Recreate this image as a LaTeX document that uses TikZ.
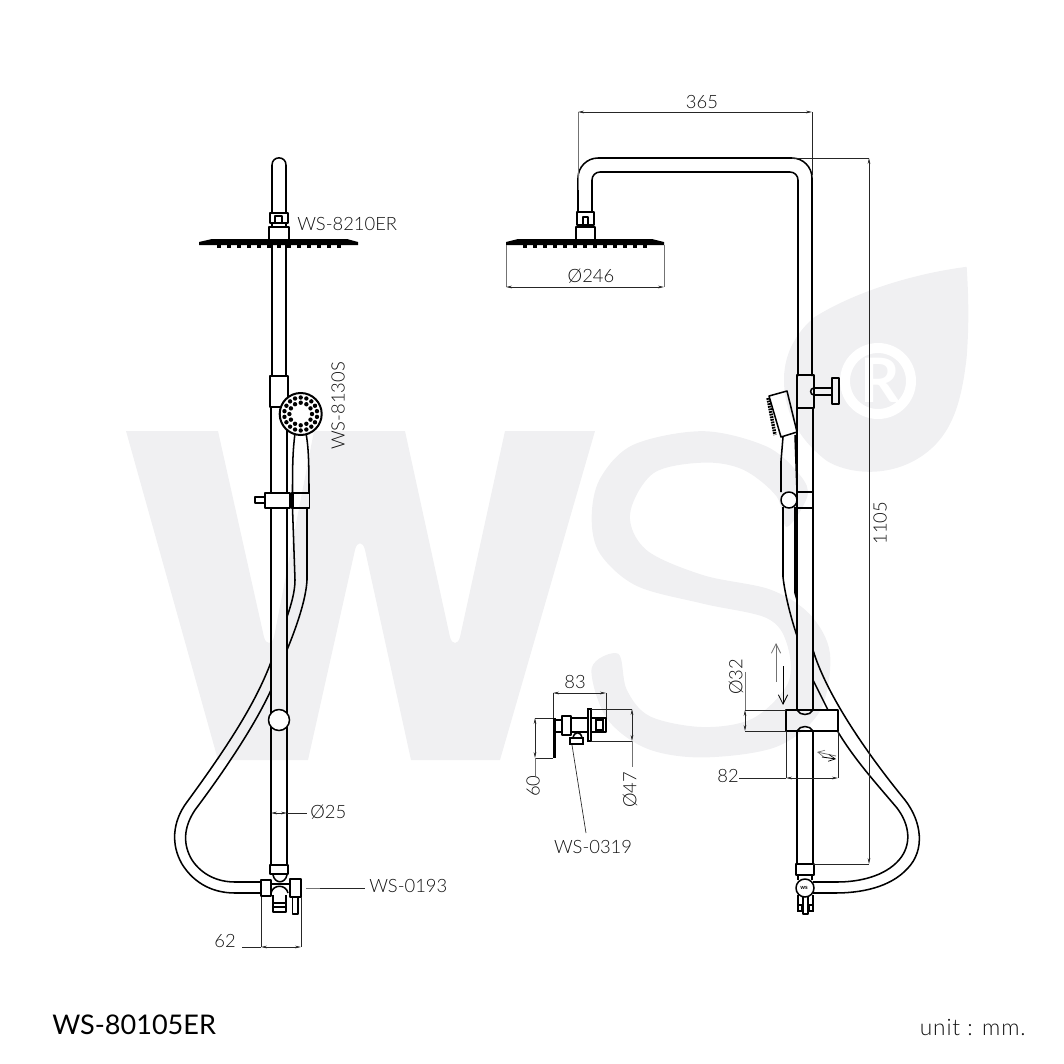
\documentclass[tikz,border=0pt]{standalone}
\usepackage{fontspec}
\setmainfont{Lato Light}
\newfontfamily\regfont{Lato}
\usetikzlibrary{arrows.meta,calc}
\definecolor{wm}{HTML}{F0F0F2}
\definecolor{txt}{HTML}{111111}
\tikzset{
 hw/.style={line width=1.15pt,black,line join=round},
 hwb/.style={line width=1.6pt,black,line join=miter},
 dimln/.style={line width=0.5pt,black!85},
 dimgr/.style={line width=0.7pt,black!55},
 dimarr/.style={dimln,{Stealth[length=4.5pt,width=2pt]}-{Stealth[length=4.5pt,width=2pt]}},
 open/.style={line width=0.6pt,-{Straight Barb[length=7pt,width=7pt,line width=0.6pt]}},
 lab/.style={text=txt,font=\fontsize{13.8pt}{15pt}\selectfont,inner sep=0pt},
 solidw/.style={hw,fill=white}
}
\begin{document}
\begin{tikzpicture}[x=0.75pt,y=-0.75pt]
\useasboundingbox (0,0) rectangle (1064,1064);
% watermark W
\fill[wm,rounded corners=0pt] (126,431) -- (218,431) -- (264,637) .. controls (266,645) and (272,645) .. (274,637) -- (314,431) -- (405,431) -- (450,637) .. controls (452,645) and (458,645) .. (460,637) -- (505,431) -- (595,431) -- (500,760) -- (411,760) -- (365,550) .. controls (363,541) and (357,541) .. (355,550) -- (308,760) -- (218,760) -- cycle;
\begin{scope}[shift={(570,250)},x=0.25pt,y=-0.268pt]
 % S
 \fill[wm] plot[smooth cycle,tension=0.55] coordinates {(65,750)(90,640)(190,545)(400,507)(590,550)(690,630)(712,690)(650,775)(620,690)(520,615)(400,595)(250,625)(180,740)(230,840)(400,910)(600,950)(720,1020)(780,1130)(750,1290)(620,1390)(400,1420)(230,1395)(110,1310)(65,1170)(145,1130)(170,1230)(240,1305)(400,1335)(550,1310)(655,1210)(650,1100)(590,1030)(400,990)(200,940)(90,850)};
 % leaf
 \fill[wm] (1190,47) .. controls (1000,70) and (830,130) .. (730,190) .. controls (670,240) and (640,300) .. (642,370) .. controls (645,470) and (700,540) .. (770,590) .. controls (830,625) and (950,640) .. (1050,580) .. controls (1150,520) and (1175,420) .. (1190,300) .. controls (1198,200) and (1195,120) .. (1190,47) -- cycle;
\end{scope}
\draw[white,line width=7.5pt] (878,381) circle (33);
\node[text=white,inner sep=0pt,font=\regfont\bfseries\fontsize{46pt}{46pt}\selectfont] (regR) at (880,380) {R};
% ---------- left elevation
\draw[hw] (272,213) -- (272,165) .. controls (272,155.5) and (286,155.5) .. (286,165) -- (286,213);
\draw[hw] (270,213) rectangle (288,223);
\draw[hw] (275,223) -- (275,216) -- (282,216) -- (282,223);
\draw[hw] (269,227) rectangle (289,240);
\draw[hw] (272,223) -- (272,227) (286,223) -- (286,227);
\fill (199,242) -- (212,239) -- (347,239) -- (358,242) -- (358,245) -- (199,245) -- cycle;
\foreach \i in {-6,...,6}{\fill ({279+\i*10-2},245) rectangle ({279+\i*10+2},248);}
\draw[hw] (272,245) -- (272,376) (286,245) -- (286,376);
\draw[hw] (271,407) -- (271,865) (287,407) -- (287,493);
\draw[hw] (287,508) -- (287,865);
\draw[hw] (270,376) rectangle (288,407);
% hose left
\draw[hw] (271,662) .. controls (255,705) and (225,750) .. (187,802) .. controls (172,822) and (171,845) .. (182,864) .. controls (195,885) and (215,893) .. (235,893) -- (261,893);
\draw[hw] (271,690) .. controls (255,725) and (225,770) .. (195,810) .. controls (183,828) and (183,845) .. (192,860) .. controls (202,875) and (218,882) .. (235,882) -- (261,882);
\draw[hw] (292.5,508) -- (295,580) .. controls (295,592) and (291,605) .. (287,617);
\draw[hw] (307,508) -- (307,580) .. controls (306,600) and (296,628) .. (287,650);
\draw[hw,fill=white] (279,720) circle (10.5);
% handset
\draw[hw] (295,433) .. controls (293,450) and (292.5,460) .. (292.5,492);
\draw[hw] (306,433) .. controls (308,445) and (309,455) .. (309,492);
\draw[solidw] (265,493) rectangle (290,508);
\draw[hw] (255,497) rectangle (265,503);
\draw[hw] (291.5,493) rectangle (309.5,508);
\draw[hwb] (291.5,493) -- (309.5,493) (293,493) -- (293,508);
\draw[solidw,line width=1.5pt] (300.7,414) circle (21);
\foreach \a in {0,30,...,330}{\fill ($(300.7,414)+(\a:11.3)$) circle (2.2);}
\foreach \a in {10,30,...,350}{\fill ($(300.7,414)+(\a:16.5)$) circle (2.2);}
\fill[white] (300.7,414) circle (7);
% valve left
\draw[hw] (270,865) rectangle (288,874);
\draw[hw] (261,880) rectangle (271,896);
\draw[hw] (290,879) rectangle (301,897);
\draw[hw] (273,875) .. controls (275,884) and (285,884) .. (287,875);
\draw[hw] (271,884) -- (290,884) (271,893) .. controls (273,884) and (286,884) .. (288,893);
\draw[hw] (273,895) -- (273,903) (286,895) -- (286,903);
\draw[hw] (273,903) rectangle (286,912);
\draw[hw] (273,907) -- (286,907);
\draw[hw] (292.5,897) rectangle (298,914);
% dims left
\draw[dimln] (261,897) -- (261,947) (301,897) -- (301,947);
\draw[dimln] (242,947) -- (261,947);
\draw[dimarr] (261,947) -- (301,947);
\node[lab] (d62) at (225,941) {62};
\draw[dimgr] (306,888) -- (320,888);
\draw[dimln] (320,888) -- (365,888);
\node[lab,anchor=west] (ws0193) at (369,885.5) {WS-0193};
\draw[dimarr] (271,813) -- (287,813);
\draw[dimln] (287,813) -- (307,813);
\node[lab,anchor=west] (d25) at (310,812) {Ø25};
\node[lab,anchor=west] (ws8210) at (297,224) {WS-8210ER};
\node[lab,rotate=90] (ws8130) at (338,406) {WS-8130S};
% ---------- right elevation
\draw[hw] (578,212) -- (578,178) .. controls (578,167) and (587,158) .. (598,158) -- (792,158) .. controls (803,158) and (812,167) .. (812,178) -- (812,376);
\draw[hw] (592,212) -- (592,180) .. controls (592,175.5) and (595.5,172) .. (600,172) -- (790,172) .. controls (794.5,172) and (798,175.5) .. (798,180) -- (798,376);
\draw[hw] (577,212) rectangle (594,225);
\draw[hw] (583,225) -- (583,217) -- (588,217) -- (588,225);
\draw[hw] (576,227) rectangle (595,240);
\fill (506,242) -- (518,239) -- (652,239) -- (664,242) -- (664,245) -- (506,245) -- cycle;
\foreach \i in {-6,...,6}{\fill ({585+\i*10-2},245) rectangle ({585+\i*10+2},248);}
\draw[hw] (797,408) -- (797,710) (813,408) -- (813,710);
\draw[hw] (797,731) -- (797,864) (813,731) -- (813,864);
\draw[hw] (797,375) rectangle (814,408);
\draw[hw] (814,388) -- (832,388) (814,395) -- (832,395);
\draw[hw] (814,388) .. controls (809.5,388) and (809.5,395) .. (814,395);
\draw[hw] (832,378) rectangle (839,404);
% clamp
\draw[hw] (786,710) rectangle (838,731);
\draw[hwb] (786,731) -- (838,731);
\draw[hw] (797,710) .. controls (800,716) and (810,716) .. (813,710);
\draw[hw] (797,731) .. controls (800,725) and (810,725) .. (813,731);
% hose right
\draw[hw] (813,650) .. controls (825,690) and (860,745) .. (905,800) .. controls (922,822) and (925,850) .. (908,868) .. controls (890,888) and (860,893) .. (835,893) -- (813,893);
\draw[hw] (838,732) .. controls (855,760) and (875,782) .. (897,808) .. controls (910,825) and (912,845) .. (899,860) .. controls (885,876) and (860,882) .. (837,882) -- (813,882);
\draw[hw] (813,680) -- (828,710);
% handset right
\draw[hw] (769,396) -- (787,391) -- (797,432) -- (781,437) -- cycle;
\draw[line width=2.6pt,dash pattern=on 1.3pt off 0.7pt] (768,398) -- (775,435);
\draw[hw] (783,437) -- (781,461) -- (781,492);
\draw[hw] (795,435) -- (797,492);
\draw[hw] (783,507) -- (783,577) .. controls (785,595) and (791,618) .. (797,636);
\draw[hw] (795,507) -- (795,593) -- (797,600);
\draw[hw] (797,492) rectangle (813,508);
\draw[solidw] (789,500) circle (8);
% valve right
\draw[hw] (796,864) rectangle (814,875);
\draw[hw] (798,875) -- (798,880) (812,875) -- (812,880);
\draw[hw] (798,895) -- (798,905) (813,895) -- (813,905);
\draw[hwb] (798,905) rectangle (802,911) (809,905) rectangle (813,911);
\draw[hw] (803,895) -- (803,914) -- (808,914) -- (808,895);
\draw[solidw] (805,888) circle (9);
\node[inner sep=0pt,font=\regfont\bfseries\fontsize{4.5pt}{5pt}\selectfont] (wsmini) at (804,888) {ws};
% dims right
\draw[dimgr] (578,112) -- (578,190);
\draw[dimln] (812,112) -- (812,175);
\draw[dimarr] (578,112) -- (812,112);
\node[lab] (d365) at (702,102) {365};
\draw[dimgr] (506,245) -- (506,287) (664,245) -- (664,287);
\draw[dimarr] (506,287) -- (664,287);
\node[lab] (d246) at (591,276) {Ø246};
\draw[dimln] (792,158) -- (869,158) (813,864) -- (869,864);
\draw[dimarr] (869,158) -- (869,864);
\node[lab,rotate=90] (d1105) at (880,523) {1105};
\draw[dimln] (745,710) -- (786,710) (745,731) -- (786,731);
\draw[dimgr] (745,672) -- (745,710);
\draw[dimarr] (745,710) -- (745,731);
\node[lab,rotate=90] (d32) at (736,677) {Ø32};
\draw[open,black!55] (776,682) -- (776,643);
\draw[open] (783,666) -- (783,705);
\draw[dimln] (786,731) -- (786,778) (838,731) -- (838,778);
\draw[dimln] (739,778) -- (786,778);
\draw[dimarr] (786,778) -- (838,778);
\node[lab] (d82) at (728,776) {82};
\draw[open,black!55,-{Straight Barb[length=5pt,width=5pt,line width=0.5pt]}] (836,756) -- (817,752);
\draw[open,-{Straight Barb[length=5pt,width=5pt,line width=0.5pt]}] (822,757) -- (836,759);
% ---------- small valve
\draw[dimln] (553,693) -- (553,718) (606,693) -- (606,720);
\draw[dimarr] (553,693) -- (606,693);
\node[lab] (d83) at (575,682) {83};
\fill (553,718) rectangle (555.5,758);
\draw[dimln] (535,718) -- (553,718) (535,758) -- (553,758);
\draw[dimarr] (535,718) -- (535,758);
\draw[dimgr] (535,758) -- (535,776);
\node[lab,rotate=90] (d60) at (533,786) {60};
\draw[hw] (555,720) rectangle (562,732);
\draw[hw] (562,716) rectangle (571,735);
\draw[hw] (571,718) -- (588,718) (571,732) -- (588,732);
\draw[hwb,fill=white] (588,709) rectangle (591,741);
\draw[hw] (591,718) -- (606,718) -- (606,732) -- (591,732);
\draw[hwb] (596,720) rectangle (603,730);
\draw[hw] (573,738) .. controls (574,731) and (581,731) .. (582,738);
\draw[hwb] (570,738) rectangle (583,744);
\draw[dimln] (591,709) -- (632,709) (591,741) -- (632,741);
\draw[dimarr] (632,709) -- (632,741);
\draw[dimgr] (632,741) -- (632,767);
\node[lab,rotate=90] (d47) at (630,790) {Ø47};
\draw[dimln] (572,745) -- (586,833);
\node[lab] (ws0319) at (593,847) {WS-0319};
% titles
\node[anchor=west,text=black,inner sep=0pt,font=\regfont\fontsize{20.3pt}{24pt}\selectfont] (title) at (52,1025) {WS-80105ER};
\node[anchor=east,text=txt,inner sep=0pt,font=\addfontfeature{LetterSpace=4}\fontsize{17pt}{18pt}\selectfont] (unit) at (1026,1027) {unit : mm.};
\end{tikzpicture}
\end{document}
